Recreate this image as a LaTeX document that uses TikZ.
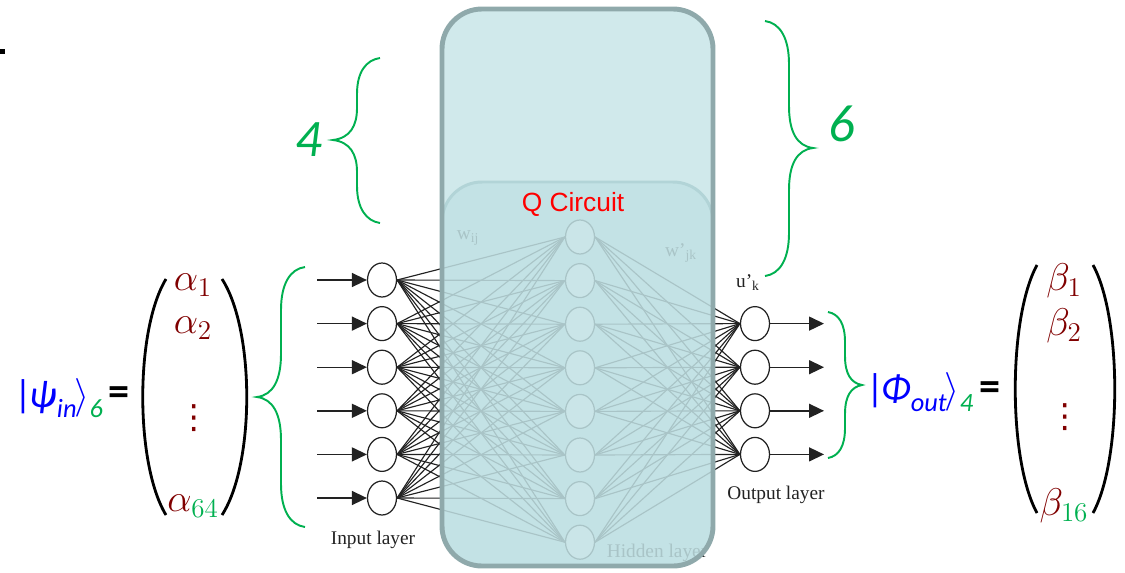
\documentclass[tikz,border=0pt]{standalone}
\usepackage{fix-cm}
\usepackage{fontspec}
\setmainfont{Liberation Serif}
\newfontfamily\calib{Carlito}
\newfontfamily\arial{Liberation Sans}
\newfontfamily\dejavu{DejaVu Sans}
\usetikzlibrary{arrows.meta,shapes.geometric}
\definecolor{qgreen}{RGB}{0,176,80}
\definecolor{qred}{RGB}{128,0,0}
\definecolor{qblue}{RGB}{0,0,255}
\definecolor{boxfill}{RGB}{208,233,235}
\definecolor{innerfill}{RGB}{193,225,228}
\definecolor{innerline}{RGB}{178,212,215}
\definecolor{boxline}{RGB}{143,169,171}
\definecolor{ink}{RGB}{34,34,34}

\begin{document}
\begin{tikzpicture}[x=0.02cm,y=-0.02cm,>={Triangle[length=0.3cm,width=0.28cm]},
  neuron/.style={ellipse,draw=ink,line width=0.7pt,fill=white,minimum width=0.58cm,minimum height=0.68cm,inner sep=0pt},
  link/.style={ink,line width=0.65pt},
  feed/.style={->,ink,line width=0.8pt},
  curly/.style={qgreen,line width=1.1pt},
  paren/.style={line width=1.6pt},
  ket/.style={inner sep=0pt,font=\calib\fontsize{22}{26}\selectfont},
  coef/.style={qred,inner sep=0pt,font=\fontsize{22}{26}\selectfont},
  vdot/.style={qred,inner sep=0pt,font=\dejavu\fontsize{19}{22}\selectfont},
  layer/.style={ink,font=\fontsize{11}{13}\selectfont}]
	  \useasboundingbox (0,0) rectangle (1125,572);
	  \fill (0,49) rectangle (5,54);
	  % quantum box, back part
	  \fill[boxfill,rounded corners=0.8cm] (442,9) rectangle (713,566);
	  % network
	  \foreach \i in {1,...,6}
	    \node[neuron] (in\i) at (382,{236.4+43.6*\i}) {};
	  \foreach \j in {1,...,8}
	    \node[neuron] (hid\j) at (580,{193.4+43.6*\j}) {};
	  \foreach \k in {1,...,4}
	    \node[neuron] (out\k) at (755,{280+43.6*\k}) {};
	  \foreach \i in {1,...,6}
	    \foreach \j in {1,...,8}
	      \draw[link] (in\i.east) -- (hid\j.west);
	  \foreach \j in {1,...,8}
	    \foreach \k in {1,...,4}
	      \draw[link] (hid\j.east) -- (out\k.west);
	  \foreach \i in {1,...,6} {
	    \coordinate (src\i) at (317,{236.4+43.6*\i});
	    \draw[feed] (src\i) -- (in\i);
	  }
	  \foreach \k in {1,...,4} {
	    \coordinate (snk\k) at (824,{280+43.6*\k});
	    \draw[feed] (out\k) -- (snk\k);
	  }
	  \node[layer] (wij) at (468,238) {w\textsubscript{ij}};
	  \node[layer] (wjk) at (681,253) {w’\textsubscript{jk}};
	  \node[layer] (hidlab) at (657,553) {Hidden layer};
	  \node[layer] (inlab) at (373,540) {Input layer};
	  \node[layer] (outlab) at (776,495) {Output layer};
	  \node[layer] (uk) at (748,283) {u’\textsubscript{k}};
	  % quantum box, front part
	  \filldraw[fill=innerfill,fill opacity=0.85,draw=innerline,line width=1.7pt,rounded corners=0.8cm] (442,182) rectangle (713,566);
	  \draw[boxline,line width=2.8pt,rounded corners=0.8cm] (442,9) rectangle (713,566);
	  \node[red,font=\arial\fontsize{15}{18}\selectfont] (qc) at (573,204) {Q Circuit};
	  % braces
	  \draw[curly] (380,58) .. controls (366,60) and (357,72) .. (357,94) -- (357,108) .. controls (357,126) and (350,138) .. (333,140)
	    .. controls (350,142) and (357,154) .. (357,172) -- (357,186) .. controls (357,208) and (366,221) .. (380,223);
	  \draw[curly] (765,21) .. controls (780,23) and (789,38) .. (789,64) -- (789,106) .. controls (789,132) and (797,146) .. (813,148)
	    .. controls (797,150) and (789,164) .. (789,190) -- (789,233) .. controls (789,259) and (780,274) .. (765,276);
	  \draw[curly] (305,267) .. controls (290,269) and (281,284) .. (281,310) -- (281,354) .. controls (281,380) and (273,395) .. (257,397)
	    .. controls (273,399) and (281,414) .. (281,440) -- (281,484) .. controls (281,510) and (290,525) .. (305,527);
	  \draw[curly] (828,312) .. controls (839,314) and (845,324) .. (845,342) -- (845,356) .. controls (845,374) and (851,383) .. (862,385)
	    .. controls (851,387) and (845,396) .. (845,414) -- (845,428) .. controls (845,446) and (839,456) .. (828,458);
	  \node[qgreen,font=\calib\itshape\fontsize{30}{34}\selectfont] (nin) at (309,140) {4};
	  \node[qgreen,font=\calib\itshape\fontsize{30}{34}\selectfont] (nout) at (842,124) {6};
	  % input state
	  \node[ket,qblue] (psi) at (59,398) {|\kern-0.08em\textit{ψ}\raisebox{-0.25em}{\fontsize{15}{15}\selectfont\itshape in}\kern-0.05em$\rangle$\raisebox{-0.25em}{\fontsize{15}{15}\selectfont\itshape\color{qgreen}6}};
	  \node[ket,font=\calib\bfseries\fontsize{24}{28}\selectfont] (eqin) at (119,396) {=};
	  \draw[paren] (166,279) .. controls (135,330) and (135,464) .. (166,515);
	  \draw[paren] (222,279) .. controls (255,330) and (255,464) .. (222,515);
	  \node[coef] (a1) at (193,285) {$\alpha_1$};
	  \node[coef] (a2) at (193,328) {$\alpha_2$};
	  \node[vdot] (adots) at (194,418) {⋮};
	  \node[coef] (a64) at (193,506) {$\alpha_{\textcolor{qgreen}{64}}$};
	  % output state
	  \node[ket,qblue] (phi) at (920,392) {|\kern-0.08em\textit{Φ}\raisebox{-0.25em}{\fontsize{15}{15}\selectfont\itshape out}\kern-0.05em$\rangle$\raisebox{-0.25em}{\fontsize{15}{15}\selectfont\itshape\color{qgreen}4}};
	  \node[ket,font=\calib\bfseries\fontsize{24}{28}\selectfont] (eqout) at (990,391) {=};
	  \draw[paren] (1037,265) .. controls (1008,318) and (1008,460) .. (1037,513);
	  \draw[paren] (1093,265) .. controls (1122,318) and (1122,460) .. (1093,513);
	  \node[coef] (b1) at (1064,281) {$\beta_1$};
	  \node[coef] (b2) at (1064,326) {$\beta_2$};
	  \node[vdot] (bdots) at (1065,417) {⋮};
	  \node[coef] (b16) at (1064,506) {$\beta_{\textcolor{qgreen}{16}}$};
	\end{tikzpicture}
\end{document}
